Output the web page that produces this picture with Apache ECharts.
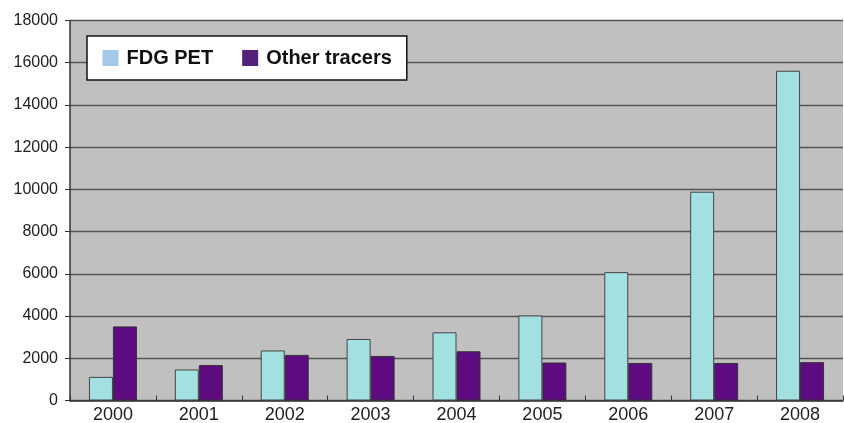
<!DOCTYPE html>
<html><head><meta charset="utf-8">
<script src="https://cdn.jsdelivr.net/npm/echarts@6/dist/echarts.min.js"></script>
<style>html,body{margin:0;padding:0;background:#fff}#c{width:844px;height:423px}</style>
</head><body><div id="c"></div>
<script>
const years = ['2000','2001','2002','2003','2004','2005','2006','2007','2008'];
const fdgPet = [1120, 1470, 2370, 2915, 3230, 4030, 6080, 9890, 15620];
const otherTracers = [3510, 1680, 2160, 2110, 2330, 1800, 1780, 1780, 1815];
const yTicks = [0, 2000, 4000, 6000, 8000, 10000, 12000, 14000, 16000, 18000];

const chart = echarts.init(document.getElementById('c'));
chart.setOption({
  animation: false,
  backgroundColor: '#ffffff',
  grid: {left: 70, right: 1, top: 20.5, bottom: 22.5, containLabel: false, outerBoundsMode: 'none',
         show: true, backgroundColor: '#c0c0c0', borderWidth: 0},
  legend: {
    left: 87, top: 36, width: 400,
    padding: [12, 15, 12, 15.5],
    backgroundColor: '#ffffff', borderColor: '#111', borderWidth: 1.5,
    itemWidth: 16, itemHeight: 16, itemGap: 29,
    icon: 'rect',
    textStyle: {fontFamily: 'Liberation Sans, Arial, sans-serif', fontWeight: 'bold', fontSize: 20, color: '#111', padding: [0,0,0,3]},
    data: [
      {name: 'FDG PET', itemStyle: {color: '#a6c8e8', borderWidth: 0}},
      {name: 'Other tracers', itemStyle: {color: '#55207a', borderWidth: 0}}
    ]
  },
  xAxis: {
    type: 'category', data: years,
    axisLine: {lineStyle: {color: '#333', width: 1.5}},
    axisTick: {show: true, inside: true, length: 5, lineStyle: {color: '#333'}},
    axisLabel: {fontFamily: 'Liberation Sans, Arial, sans-serif', fontSize: 18, color: '#222', margin: 6}
  },
  yAxis: {
    type: 'value', min: 0, max: 18000, interval: 2000,
    axisLine: {show: true, lineStyle: {color: '#333', width: 1.5}},
    axisTick: {show: true, length: 5, lineStyle: {color: '#333'}},
    axisLabel: {fontFamily: 'Liberation Sans, Arial, sans-serif', fontSize: 16, color: '#222', margin: 12,
      formatter: v => yTicks.includes(v) ? String(v) : ''},
    splitLine: {lineStyle: {color: '#555', width: 1.3}}
  },
  series: [
    {name: 'FDG PET', type: 'bar', data: fdgPet, barWidth: 24, barGap: '0%',
     itemStyle: {color: '#a3e0e2', borderColor: '#444', borderWidth: 1}},
    {name: 'Other tracers', type: 'bar', data: otherTracers, barWidth: 24, barGap: '0%',
     itemStyle: {color: '#5e0a80', borderColor: '#333', borderWidth: 1}}
  ]
});
</script></body></html>
